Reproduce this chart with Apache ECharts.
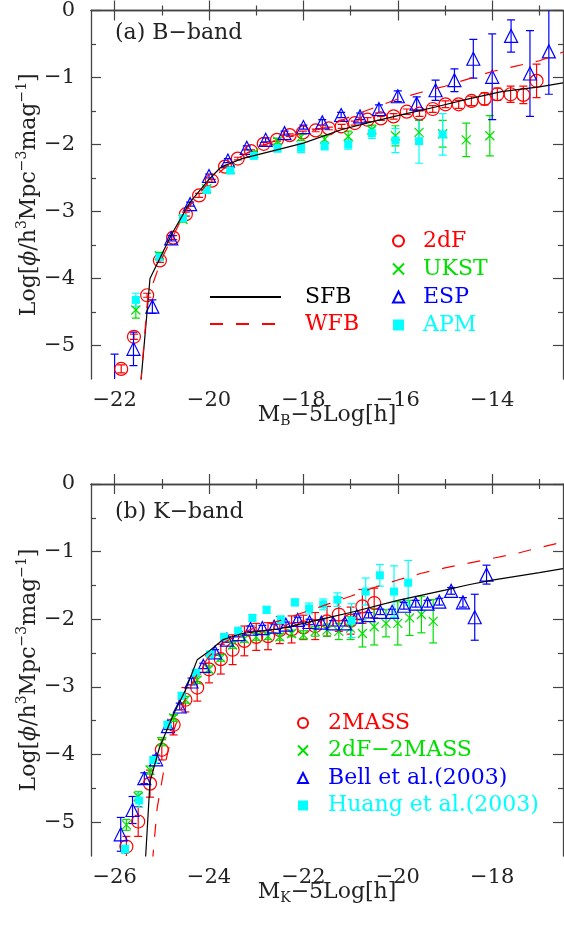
<!DOCTYPE html>
<html>
<head>
<meta charset="utf-8">
<script src="https://cdn.jsdelivr.net/npm/echarts@6/dist/echarts.min.js"></script>
<style>
html,body{margin:0;padding:0;background:#fff}
#main{width:564px;height:937px}
</style>
</head>
<body>
<div id="main"></div>
<script>
'use strict';
// ---- (a) B-band data ----
var bX_2dF = [-21.86,-21.59,-21.31,-21.04,-20.76,-20.49,-20.21,-19.94,-19.66,-19.39,-19.11,-18.84,-18.56,-18.29,-18.01,-17.74,-17.46,-17.19,-16.91,-16.64,-16.36,-16.09,-15.81,-15.54,-15.26,-14.99,-14.71,-14.44,-14.16,-13.89,-13.61,-13.34,-13.06];
var bY_2dF = [-5.35,-4.87,-4.25,-3.73,-3.39,-3.04,-2.76,-2.54,-2.33,-2.21,-2.10,-1.99,-1.93,-1.86,-1.82,-1.79,-1.76,-1.73,-1.68,-1.63,-1.61,-1.58,-1.51,-1.54,-1.47,-1.40,-1.40,-1.35,-1.32,-1.25,-1.25,-1.26,-1.05];
var bE_2dF = [0.06,0.04,0.03,0.03,0.03,0.03,0.03,0.02,0.02,0.02,0.02,0.02,0.02,0.02,0.02,0.02,0.02,0.03,0.03,0.03,0.03,0.04,0.04,0.04,0.05,0.05,0.06,0.07,0.09,0.09,0.12,0.13,0.25];

var bX_UKST = [-21.55,-21.05,-20.55,-20.05,-19.55,-19.05,-18.55,-18.05,-17.55,-17.05,-16.55,-16.05,-15.55,-15.05,-14.55,-14.05];
var bY_UKST = [-4.47,-3.66,-3.12,-2.66,-2.37,-2.13,-1.95,-1.89,-1.92,-1.88,-1.78,-1.87,-1.82,-1.84,-1.93,-1.87];
var bE_UKST = [0.12,0.05,0.04,0.03,0.03,0.03,0.04,0.05,0.05,0.08,0.07,0.15,0.18,0.2,0.25,0.3];

var bX_ESP = [-22.0,-21.6,-21.2,-20.8,-20.4,-20.0,-19.6,-19.2,-18.8,-18.4,-18.0,-17.6,-17.2,-16.8,-16.4,-16.0,-15.6,-15.2,-14.8,-14.4,-14.0,-13.6,-13.2,-12.8];
var bY_ESP = [-5.75,-5.05,-4.42,-3.40,-2.89,-2.47,-2.24,-2.05,-1.93,-1.83,-1.74,-1.67,-1.56,-1.58,-1.47,-1.28,-1.39,-1.19,-1.04,-0.72,-0.99,-0.38,-0.94,-0.61];
var bE_ESP = [0.62,0.25,0.1,0.04,0.03,0.03,0.03,0.03,0.03,0.03,0.03,0.04,0.04,0.05,0.06,0.08,0.1,0.15,0.17,0.29,0.64,0.24,0.64,0.64];

var bX_APM = [-21.55,-21.05,-20.55,-20.05,-19.55,-19.05,-18.55,-18.05,-17.55,-17.05,-16.55,-16.05,-15.55,-15.05];
var bY_APM = [-4.32,-3.68,-3.10,-2.68,-2.39,-2.17,-2.06,-2.05,-2.02,-2.00,-1.83,-1.94,-1.95,-1.85];
var bE_APM = [0.1,0.05,0.04,0.04,0.04,0.04,0.05,0.07,0.06,0.07,0.08,0.18,0.33,0.31];

var bX_SFB = [-21.45,-21.25,-20.8,-20.4,-20.0,-19.75,-19.3,-18.5,-18.0,-17.2,-16.6,-16.0,-15.2,-14.5,-13.8,-13.0,-12.5];
var bY_SFB = [-5.6,-4.0,-3.35,-2.86,-2.52,-2.34,-2.21,-2.07,-1.98,-1.78,-1.67,-1.57,-1.44,-1.32,-1.21,-1.14,-1.08];
var bX_WFB = [-21.45,-21.3,-21.0,-20.5,-20.0,-19.5,-19.0,-18.5,-18.0,-17.5,-17.0,-16.5,-16.0,-15.5,-15.0,-14.5,-14.0,-13.5,-13.0,-12.5];
var bY_WFB = [-5.6,-4.3,-3.7,-3.0,-2.55,-2.25,-2.05,-1.92,-1.82,-1.74,-1.58,-1.45,-1.32,-1.22,-1.13,-1.02,-0.91,-0.83,-0.75,-0.62];

// ---- (b) K-band data ----
var kX_2M = [-25.75,-25.5,-25.25,-25.0,-24.75,-24.5,-24.25,-24.0,-23.75,-23.5,-23.25,-23.0,-22.75,-22.5,-22.25,-22.0,-21.75,-21.5,-21.25,-21.0,-20.75,-20.5];
var kY_2M = [-5.36,-4.99,-4.43,-3.93,-3.56,-3.19,-3.01,-2.74,-2.59,-2.45,-2.32,-2.26,-2.25,-2.16,-2.15,-2.12,-2.10,-2.03,-1.93,-2.02,-1.81,-1.76];
var kE_2M = [0.15,0.22,0.2,0.15,0.15,0.18,0.2,0.2,0.22,0.22,0.22,0.2,0.2,0.2,0.2,0.18,0.2,0.22,0.25,0.2,0.25,0.22];

var kX_2d2M = [-25.75,-25.5,-25.25,-25.0,-24.75,-24.5,-24.25,-24.0,-23.75,-23.5,-23.25,-23.0,-22.75,-22.5,-22.25,-22.0,-21.75,-21.5,-21.25,-21.0,-20.75,-20.5,-20.25,-20.0,-19.75,-19.5,-19.25];
var kY_2d2M = [-5.04,-4.62,-4.23,-3.81,-3.46,-3.19,-2.90,-2.74,-2.57,-2.38,-2.29,-2.26,-2.25,-2.26,-2.21,-2.23,-2.18,-2.16,-2.18,-2.13,-2.21,-2.11,-2.06,-2.06,-1.98,-1.93,-2.03];
var kE_2d2M = [0.08,0.07,0.06,0.06,0.05,0.05,0.05,0.05,0.05,0.05,0.05,0.05,0.05,0.05,0.05,0.06,0.07,0.09,0.12,0.17,0.2,0.27,0.2,0.32,0.26,0.27,0.32];

var kX_Bell = [-25.87,-25.62,-25.37,-25.12,-24.87,-24.62,-24.37,-24.12,-23.87,-23.62,-23.37,-23.12,-22.87,-22.62,-22.37,-22.12,-21.87,-21.62,-21.37,-21.12,-20.87,-20.62,-20.37,-20.12,-19.87,-19.62,-19.37,-19.12,-18.87,-18.62,-18.37,-18.12];
var kY_Bell = [-5.18,-4.82,-4.35,-4.07,-3.58,-3.29,-2.92,-2.69,-2.49,-2.30,-2.22,-2.14,-2.13,-2.11,-2.08,-2.01,-2.04,-2.05,-2.06,-2.06,-1.96,-1.94,-1.89,-1.89,-1.80,-1.77,-1.77,-1.74,-1.58,-1.75,-1.97,-1.34];
var kE_Bell = [0.25,0.2,0.08,0.06,0.05,0.05,0.05,0.04,0.04,0.04,0.04,0.04,0.04,0.04,0.04,0.04,0.04,0.04,0.04,0.04,0.04,0.04,0.04,0.04,0.05,0.05,0.05,0.05,0.05,0.07,0.34,0.14];

var kX_Hu = [-25.78,-25.48,-25.18,-24.88,-24.58,-24.28,-23.98,-23.68,-23.38,-23.08,-22.78,-22.48,-22.18,-21.88,-21.58,-21.28,-20.98,-20.68,-20.38,-20.08,-19.78];
var kY_Hu = [-5.40,-4.68,-4.08,-3.56,-3.13,-2.79,-2.52,-2.26,-2.17,-1.98,-1.86,-2.01,-1.75,-1.84,-1.78,-1.71,-2.02,-1.59,-1.35,-1.59,-1.46];
var kE_Hu = [0.06,0.1,0.05,0.05,0.04,0.04,0.04,0.04,0.04,0.05,0.05,0.06,0.05,0.08,0.08,0.1,0.25,0.2,0.16,0.38,0.33];

var kX_SFB = [-25.35,-25.25,-25.05,-24.75,-24.5,-24.25,-24.05,-23.7,-23.3,-22.5,-22.0,-21.5,-21.0,-20.0,-19.0,-18.5,-18.0,-17.0,-16.5];
var kY_SFB = [-5.6,-4.4,-3.9,-3.4,-3.05,-2.6,-2.5,-2.3,-2.21,-2.14,-2.06,-1.98,-1.9,-1.72,-1.57,-1.49,-1.42,-1.31,-1.25];
var kX_WFB = [-25.2,-25.1,-24.95,-24.8,-24.6,-24.4,-24.2,-24.0,-23.7,-23.3,-23.0,-22.5,-22.0,-21.5,-21.0,-20.5,-20.0,-19.5,-19.0,-18.5,-18.0,-17.5,-17.0,-16.5];
var kY_WFB = [-5.6,-4.8,-4.2,-3.75,-3.35,-3.0,-2.75,-2.55,-2.35,-2.2,-2.12,-2.02,-1.9,-1.78,-1.66,-1.53,-1.42,-1.32,-1.24,-1.17,-1.10,-1.03,-0.94,-0.86];

// tick values
var bMajorX = [-22,-20,-18,-16,-14];
var bMinorX = [-21,-19,-17,-15,-13];
var kMajorX = [-26,-24,-22,-20,-18];
var kMinorX = [-25,-23,-21,-19,-17];
var majorY = [0,-1,-2,-3,-4,-5];
var minorY = [-0.5,-1.5,-2.5,-3.5,-4.5];

var FONT = 'DejaVu Serif';
var TXT = '#222';
var AXC = '#444';
var RED = '#ff0000', GREEN = '#00e000', BLUE = '#0000ff', CYAN = '#00ffff';
var CROSS = 'path://M0,0L10,10M10,0L0,10';

function zip(xs, ys, es) {
	var out = [];
	for (var i = 0; i < xs.length; i++) {
		out.push(es ? [xs[i], ys[i], es[i]] : [xs[i], ys[i]]);
	}
	return out;
}
function fmt(v) {
	return v < 0 ? '\u2212' + Math.abs(v) : String(v);
}

// 4 axes per direction per panel: labelled/major, minor, mirrored major, mirrored minor
function xAxes(g, min, max, majors, minors, name) {
	var base = {type:'value', gridIndex:g, min:min, max:max, splitLine:{show:false}};
	return [
		Object.assign({}, base, {position:'bottom',
			axisLine:{show:true, lineStyle:{color:AXC, width:1.3}},
			axisTick:{show:true, inside:true, length:10, customValues:majors, lineStyle:{color:AXC, width:1.2}},
			axisLabel:{show:true, customValues:majors, formatter:fmt, margin:11, fontFamily:FONT, fontSize:21, color:TXT},
			name:name, nameLocation:'middle', nameGap:23, nameMoveOverlap:false,
			nameTextStyle:{fontFamily:FONT, fontSize:22, color:TXT, lineHeight:26,
				rich:{sub:{fontFamily:FONT, fontSize:14, color:TXT, verticalAlign:'bottom'}}}
		}),
		Object.assign({}, base, {position:'bottom', axisLine:{show:false}, axisLabel:{show:false},
			axisTick:{show:true, inside:true, length:5, customValues:minors, lineStyle:{color:AXC, width:1.2}}}),
		Object.assign({}, base, {position:'top', axisLine:{show:true, lineStyle:{color:AXC, width:1.3}}, axisLabel:{show:false},
			axisTick:{show:true, inside:true, length:10, customValues:majors, lineStyle:{color:AXC, width:1.2}}}),
		Object.assign({}, base, {position:'top', axisLine:{show:false}, axisLabel:{show:false},
			axisTick:{show:true, inside:true, length:5, customValues:minors, lineStyle:{color:AXC, width:1.2}}})
	];
}
function yAxes(g) {
	var base = {type:'value', gridIndex:g, min:-5.5, max:0, splitLine:{show:false}};
	return [
		Object.assign({}, base, {position:'left',
			axisLine:{show:true, lineStyle:{color:AXC, width:1.3}},
			axisTick:{show:true, inside:true, length:10, customValues:majorY, lineStyle:{color:AXC, width:1.2}},
			axisLabel:{show:true, customValues:majorY, formatter:fmt, margin:16, fontFamily:FONT, fontSize:21, color:TXT},
			name:'Log[{i|\u03d5}/h{sup|3}Mpc{sup|\u22123}mag{sup|\u22121}]', nameLocation:'middle', nameRotate:90,
			nameGap:48, nameMoveOverlap:false,
			nameTextStyle:{fontFamily:FONT, fontSize:22, color:TXT, lineHeight:28,
				rich:{i:{fontFamily:FONT, fontSize:22, fontStyle:'italic', color:TXT},
					sup:{fontFamily:FONT, fontSize:14, color:TXT, verticalAlign:'top'}}}
		}),
		Object.assign({}, base, {position:'left', axisLine:{show:false}, axisLabel:{show:false},
			axisTick:{show:true, inside:true, length:5, customValues:minorY, lineStyle:{color:AXC, width:1.2}}}),
		Object.assign({}, base, {position:'right', axisLine:{show:true, lineStyle:{color:AXC, width:1.3}}, axisLabel:{show:false},
			axisTick:{show:true, inside:true, length:10, customValues:majorY, lineStyle:{color:AXC, width:1.2}}}),
		Object.assign({}, base, {position:'right', axisLine:{show:false}, axisLabel:{show:false},
			axisTick:{show:true, inside:true, length:5, customValues:minorY, lineStyle:{color:AXC, width:1.2}}})
	];
}

function errRender(color) {
	return function (params, api) {
		var x = api.value(0), y = api.value(1), e = api.value(2);
		var hi = api.coord([x, y + e]);
		var lo = api.coord([x, y - e]);
		var w = 4;
		var st = {stroke:color, lineWidth:1.2};
		return {type:'group', children:[
			{type:'line', shape:{x1:hi[0], y1:hi[1], x2:lo[0], y2:lo[1]}, style:st},
			{type:'line', shape:{x1:hi[0]-w, y1:hi[1], x2:hi[0]+w, y2:hi[1]}, style:st},
			{type:'line', shape:{x1:lo[0]-w, y1:lo[1], x2:lo[0]+w, y2:lo[1]}, style:st}
		]};
	};
}
function errSeries(ax, data, color) {
	return {type:'custom', xAxisIndex:ax, yAxisIndex:ax, clip:true, silent:true,
		renderItem:errRender(color), encode:{x:0, y:1}, data:data, z:2};
}
function ptSeries(ax, name, data, color, symbol, size, filled) {
	return {type:'scatter', name:name, xAxisIndex:ax, yAxisIndex:ax, clip:true,
		symbol:symbol, symbolSize:size, data:data, z:3,
		itemStyle: filled ? {color:color, borderWidth:0, opacity:1}
			: {color:'rgba(0,0,0,0)', borderColor:color, borderWidth:1.2, opacity:1}};
}
function lineSeries(ax, name, data, color, dashed) {
	return {type:'line', name:name, xAxisIndex:ax, yAxisIndex:ax, clip:true, symbol:'none',
		data:data, z:4, lineStyle:{color:color, width:1.2, type: dashed ? [13, 13] : 'solid'},
		itemStyle:{color:color}};
}

var series = [
	lineSeries(0, 'SFB', zip(bX_SFB, bY_SFB), '#000', false),
	lineSeries(0, 'WFB', zip(bX_WFB, bY_WFB), RED, true),
	errSeries(0, zip(bX_2dF, bY_2dF, bE_2dF), RED),
	errSeries(0, zip(bX_UKST, bY_UKST, bE_UKST), GREEN),
	errSeries(0, zip(bX_ESP, bY_ESP, bE_ESP), BLUE),
	errSeries(0, zip(bX_APM, bY_APM, bE_APM), CYAN),
	ptSeries(0, '2dF', zip(bX_2dF, bY_2dF), RED, 'circle', 13, false),
	ptSeries(0, 'UKST', zip(bX_UKST, bY_UKST), GREEN, CROSS, 9, false),
	ptSeries(0, 'ESP', zip(bX_ESP, bY_ESP), BLUE, 'triangle', 13, false),
	ptSeries(0, 'APM', zip(bX_APM, bY_APM), CYAN, 'rect', 8, true),

	lineSeries(4, 'SFB K', zip(kX_SFB, kY_SFB), '#000', false),
	lineSeries(4, 'WFB K', zip(kX_WFB, kY_WFB), RED, true),
	errSeries(4, zip(kX_2M, kY_2M, kE_2M), RED),
	errSeries(4, zip(kX_2d2M, kY_2d2M, kE_2d2M), GREEN),
	errSeries(4, zip(kX_Bell, kY_Bell, kE_Bell), BLUE),
	errSeries(4, zip(kX_Hu, kY_Hu, kE_Hu), CYAN),
	ptSeries(4, '2MASS', zip(kX_2M, kY_2M), RED, 'circle', 13, false),
	ptSeries(4, '2dF\u22122MASS', zip(kX_2d2M, kY_2d2M), GREEN, CROSS, 9, false),
	ptSeries(4, 'Bell et al.(2003)', zip(kX_Bell, kY_Bell), BLUE, 'triangle', 13, false),
	ptSeries(4, 'Huang et al.(2003)', zip(kX_Hu, kY_Hu), CYAN, 'rect', 8, true)
];

function legendItems(names, colors) {
	return names.map(function (n, i) { return {name:n, textStyle:{color:colors[i]}}; });
}
var legText = {fontFamily:FONT, fontSize:22, lineHeight:22, padding:[0,0,0,14]};

var chart = echarts.init(document.getElementById('main'), null, {renderer:'canvas'});
chart.setOption({
	animation:false,
	backgroundColor:'#fff',
	title:[
		{text:'(a) B\u2212band', left:115, top:22, padding:0, textStyle:{fontFamily:FONT, fontSize:22, fontWeight:'normal', color:TXT}},
		{text:'(b) K\u2212band', left:115, top:501, padding:0, textStyle:{fontFamily:FONT, fontSize:22, fontWeight:'normal', color:TXT}}
	],
	grid:[
		{left:91, top:6, width:472, height:373},
		{left:91, top:484, width:472, height:372}
	],
	xAxis: xAxes(0, -22.5, -12.5, bMajorX, bMinorX, 'M{sub|B}\u22125Log[h]')
		.concat(xAxes(1, -26.5, -16.5, kMajorX, kMinorX, 'M{sub|K}\u22125Log[h]')),
	yAxis: yAxes(0).concat(yAxes(1)),
	legend:[
		{orient:'vertical', left:392, top:230, padding:0, itemWidth:11, itemHeight:11, itemGap:6,
			selectedMode:false, textStyle:legText,
			data:legendItems(['2dF','UKST','ESP','APM'], [RED, GREEN, BLUE, CYAN])},
		{orient:'vertical', left:209, top:286, padding:0, itemWidth:71, itemHeight:2, itemGap:5,
			selectedMode:false, itemStyle:{opacity:0},
			textStyle:Object.assign({}, legText, {padding:[0,0,0,19]}),
			data:legendItems(['SFB','WFB'], ['#000', RED])},
		{orient:'vertical', left:297, top:712, padding:0, itemWidth:10, itemHeight:10, itemGap:5.5,
			selectedMode:false, textStyle:Object.assign({}, legText, {padding:[0,0,0,15]}),
			data:legendItems(['2MASS','2dF\u22122MASS','Bell et al.(2003)','Huang et al.(2003)'], [RED, GREEN, BLUE, CYAN])}
	],
	series:series
});
</script>
</body>
</html>
